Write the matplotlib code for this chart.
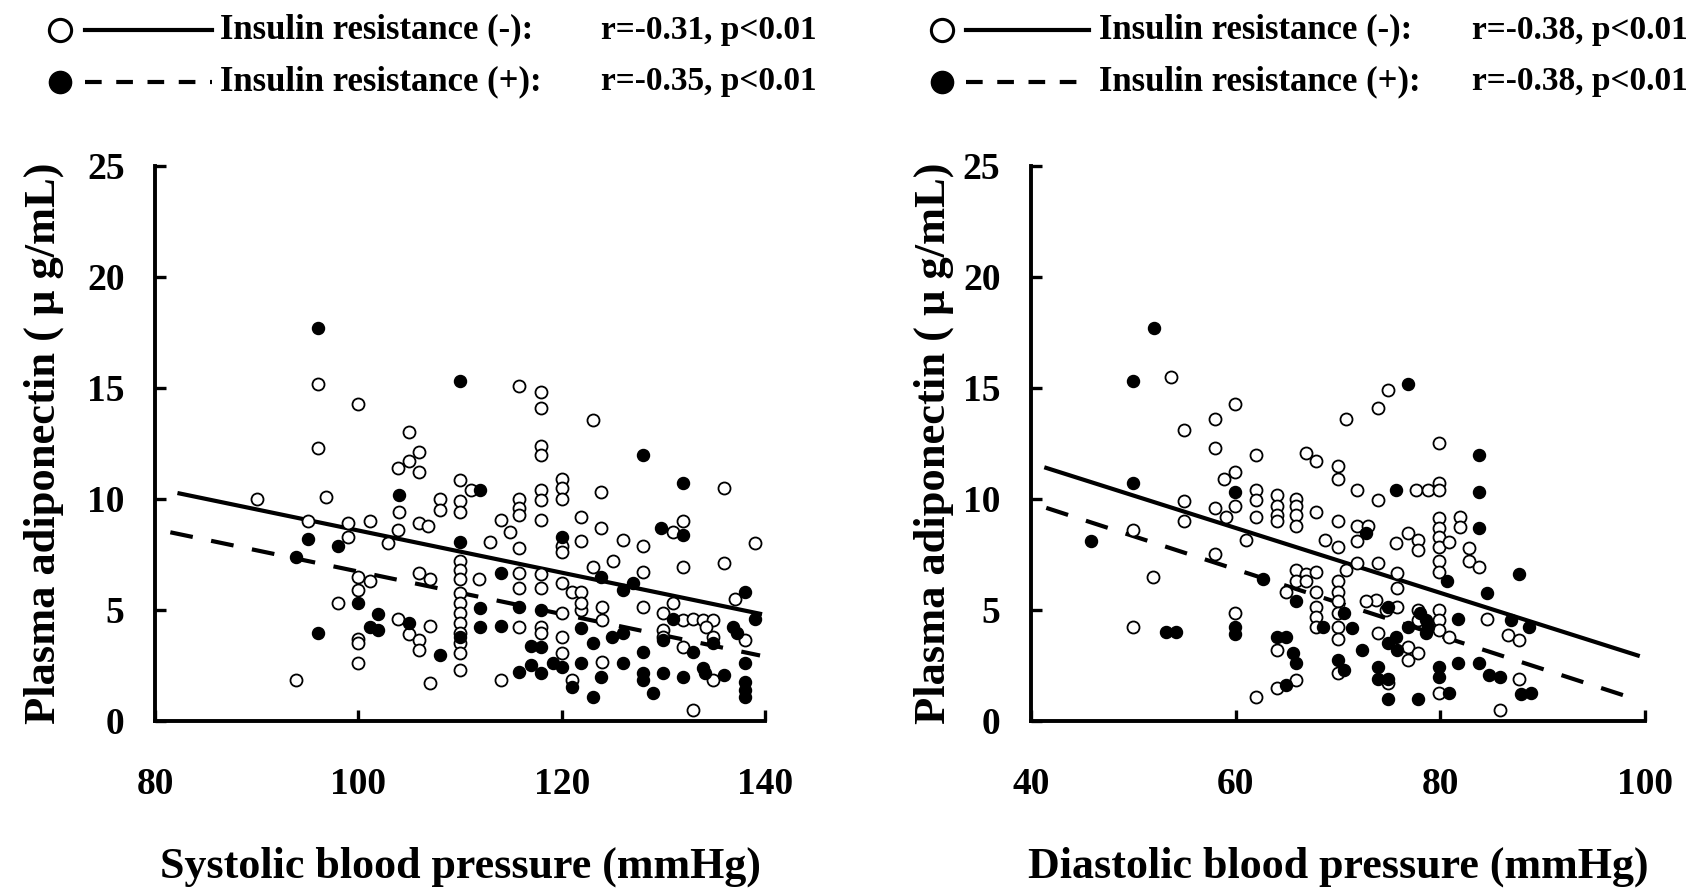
import matplotlib
matplotlib.use("Agg")
import matplotlib.pyplot as plt
from matplotlib.lines import Line2D

plt.rcParams['font.family'] = ['Liberation Serif', 'DejaVu Serif']
plt.rcParams['font.weight'] = 'bold'

# ---- systolic panel: insulin resistance (-) open, (+) filled ----
sys_open_x = [96, 115.8, 118, 118, 100, 105, 96, 118, 118, 106, 105, 103.9, 106, 110, 111.1,
              90, 96.8, 108, 108, 110, 110, 115.8, 115.8, 115.8, 118, 118, 118, 104, 114,
              114.9, 106, 106.8, 103.9, 101.1, 99, 95, 99, 102.9, 112.9, 115.8, 110, 110, 110,
              115.8, 115.8, 118, 118, 111.9, 106, 107, 100, 101.1, 100, 98, 100, 100, 100,
              103.9, 105, 106, 106, 107, 110, 110, 110, 110, 110, 110, 110, 110, 115.8, 118,
              118, 93.9, 107, 114,
              123.1, 120, 120, 120, 123.9, 136, 121.9, 123.9, 131.9, 130.9, 120, 120, 121.9,
              126, 128, 139, 125, 123.1, 131.9, 136, 128, 120, 121, 121.9, 137, 128, 130,
              130.9, 131.9, 132.9, 133.9, 134.9, 130, 130, 134.2, 134.9, 138, 131.9, 121.9,
              121.9, 120, 120, 124, 124, 120, 124, 121, 134.9, 132.9]
sys_open_y = [15.2, 15.1, 14.8, 14.1, 14.3, 13.0, 12.3, 12.4, 12.0, 12.1, 11.7, 11.4, 11.2, 10.86, 10.4,
              10.0, 10.1, 10.0, 9.5, 9.9, 9.4, 10.0, 9.6, 9.3, 10.4, 9.96, 9.05, 9.4, 9.05,
              8.5, 8.9, 8.8, 8.6, 9.0, 8.9, 9.0, 8.3, 8.0, 8.08, 7.8, 7.2, 6.8, 6.4,
              6.65, 6.0, 6.6, 6.0, 6.4, 6.65, 6.4, 6.5, 6.3, 5.9, 5.3, 3.7, 3.5, 2.6,
              4.6, 3.9, 3.65, 3.2, 4.3, 5.75, 5.3, 4.85, 4.4, 3.95, 3.5, 3.05, 2.3, 4.25, 4.25,
              3.95, 1.85, 1.7, 1.85,
              13.56, 10.9, 10.5, 10.0, 10.3, 10.5, 9.2, 8.7, 9.0, 8.5, 7.9, 7.6, 8.1,
              8.15, 7.9, 8.0, 7.2, 6.95, 6.95, 7.1, 6.7, 6.2, 5.8, 5.8, 5.5, 5.15, 4.85,
              5.3, 4.55, 4.6, 4.55, 4.55, 4.1, 3.8, 4.25, 3.8, 3.65, 3.35, 5.0,
              5.3, 4.85, 3.8, 5.15, 4.55, 3.05, 2.67, 1.85, 1.85, 0.5]
sys_fill_x = [96, 110, 112, 104, 95, 98, 110, 93.9, 114, 100, 101.9, 101.1, 101.9, 96, 105, 108,
              110, 112, 112, 114, 115.8, 118, 117, 118, 115.8, 117, 118, 119.1,
              128, 131.9, 129.8, 131.9, 120, 123.9, 126, 127, 138, 139, 130.9, 130, 136.8,
              137.2, 132.9, 134.9, 121.9, 123.1, 124.9, 126, 120, 121.9, 123.9, 123.1, 121,
              126, 128, 128, 128, 129, 130, 131.9, 133.9, 134.1, 136, 138, 138, 138, 138]
sys_fill_y = [17.7, 15.3, 10.4, 10.2, 8.2, 7.9, 8.08, 7.4, 6.65, 5.3, 4.8, 4.25, 4.1, 3.95, 4.4, 2.97,
              3.8, 5.07, 4.25, 4.3, 5.15, 5.0, 3.4, 3.35, 2.2, 2.5, 2.15, 2.6,
              12.0, 10.7, 8.7, 8.4, 8.3, 6.5, 5.9, 6.2, 5.8, 4.6, 4.6, 3.65, 4.25,
              3.95, 3.1, 3.5, 4.17, 3.5, 3.8, 3.95, 2.45, 2.6, 2.0, 1.1, 1.55,
              2.6, 3.1, 2.15, 1.85, 1.25, 2.15, 2.0, 2.4, 2.15, 2.07, 2.6, 1.77, 1.4, 1.1]
sys_fit_x = [82.4, 139.5]
sys_fit_neg = [10.25, 4.83]
sys_fit_x2 = [81.5, 139.5]
sys_fit_pos = [8.5, 2.95]

# ---- diastolic panel ----
dia_open_x = [53.7, 74.9, 73.9, 59.9, 58, 55, 70.8, 58, 62, 66.9, 67.9, 70, 70, 59.9, 58.9, 71.9,
              73.9, 77.6, 78.8, 59.9, 62, 62, 62, 64, 64, 64, 64, 65.9, 65.9, 65.9, 65.9, 67.9,
              70, 71.9, 72.9, 71.9, 68.7, 70, 75.7, 76.8, 77.8, 77.8, 58, 55, 55, 59.1, 61, 50,
              58, 51.9, 71.9, 73.9, 70.8, 75.8, 75.8, 65.9, 66.9, 67.9, 65.9, 66.9, 67.9, 64.9,
              70, 70, 70, 70, 70, 70, 67.9, 67.9, 67.9, 73.7, 72.7, 74.7, 75.8, 77.8, 77.8,
              73.9, 76.8, 76.8, 77.8, 50, 59.9, 64, 65.9, 64, 62, 70, 74.9,
              79.9, 79.9, 79.9, 79.9, 79.9, 79.9, 79.9, 81.9, 81.9, 80.9, 82.8, 82.8, 83.8,
              79.9, 79.9, 84.6, 86.6, 87.7, 79.9, 79.9, 79.9, 80.9, 87.7, 85.8, 79.9]
dia_open_y = [15.5, 14.9, 14.1, 14.3, 13.6, 13.1, 13.6, 12.3, 12.0, 12.06, 11.7, 11.5, 10.9, 11.2, 10.9, 10.4,
              9.95, 10.4, 10.4, 9.7, 10.4, 9.95, 9.2, 10.2, 9.7, 9.3, 9.0, 10.0, 9.7, 9.3, 8.8, 9.4,
              9.0, 8.8, 8.8, 8.1, 8.15, 7.85, 8.0, 8.45, 8.15, 7.7, 9.6, 9.9, 9.0, 9.2, 8.15, 8.6,
              7.5, 6.5, 7.1, 7.1, 6.8, 6.65, 6.0, 6.8, 6.6, 6.7, 6.3, 6.3, 5.8, 5.8,
              6.3, 5.8, 5.4, 4.85, 4.25, 3.7, 5.15, 4.7, 4.25, 5.45, 5.4, 5.0, 5.15, 5.0, 4.55,
              3.95, 3.35, 2.75, 3.05, 4.25, 4.85, 3.2, 1.85, 1.5, 1.1, 2.15, 1.7,
              12.5, 10.7, 10.4, 9.13, 8.68, 8.3, 7.85, 9.2, 8.75, 8.08, 7.78, 7.2, 6.95,
              7.2, 6.7, 4.6, 3.87, 3.65, 5.0, 4.55, 4.1, 3.8, 1.9, 0.5, 1.25]
dia_fill_x = [52, 50, 76.8, 75.7, 50, 59.9, 72.7, 45.9, 62.7, 65.9, 70.6, 71.4, 68.5, 74.9, 76.8,
              78.8, 75.7, 74.9, 75.8, 72.4, 53.2, 54.2, 59.9, 59.9, 64, 64.9, 65.6, 65.9, 64.9,
              70, 70.6, 73.9, 74.9, 73.9, 74.9, 77.8,
              83.8, 83.8, 83.8, 80.7, 87.7, 84.6, 81.7, 86.9, 88.7, 78, 78.6, 78.6, 81.7, 83.8,
              84.8, 85.8, 87.9, 88.9, 80.9, 79.9, 79.9]
dia_fill_y = [17.7, 15.3, 15.2, 10.4, 10.7, 10.3, 8.45, 8.1, 6.4, 5.4, 4.85, 4.2, 4.25, 5.15, 4.25,
              4.25, 3.8, 3.5, 3.2, 3.2, 4.0, 4.0, 4.25, 3.9, 3.8, 3.8, 3.05, 2.6, 1.6,
              2.75, 2.3, 2.45, 1.9, 1.9, 1.0, 1.0,
              12.0, 10.3, 8.68, 6.3, 6.6, 5.75, 4.6, 4.55, 4.25, 4.85, 3.95, 4.55, 2.6, 2.6,
              2.07, 2.0, 1.2, 1.25, 1.25, 2.0, 2.45]
dia_fit_x = [41.5, 99.3]
dia_fit_neg = [11.4, 2.95]
dia_fit_x2 = [41.5, 99.3]
dia_fit_pos = [9.6, 0.95]

y_ticks = [0, 5, 10, 15, 20, 25]
ylabel = 'Plasma adiponectin ( μ g/mL)'
legend_neg = 'Insulin resistance (-):'
legend_pos = 'Insulin resistance (+):'
stats_sys = ['r=-0.31, p<0.01', 'r=-0.35, p<0.01']
stats_dia = ['r=-0.38, p<0.01', 'r=-0.38, p<0.01']

fig = plt.figure(figsize=(17.06, 8.9), dpi=100)
ax1 = fig.add_axes([0.0909, 0.1899, 0.3576, 0.6236])
ax2 = fig.add_axes([0.6043, 0.1899, 0.3599, 0.6236])

DASH = (5.5, 4.5)


def panel(ax, xo, yo, xf, yf, fx, fneg, fx2, fpos, xlim, xticks, xlabel, ylx):
    ax.plot(fx, fneg, '-', color='black', lw=3.0, zorder=2)
    ax.plot(fx2, fpos, '--', color='black', lw=3.0, dashes=DASH, zorder=2)
    ax.scatter(xo, yo, s=75, facecolors='white', edgecolors='black', linewidths=1.3, zorder=3)
    ax.scatter(xf, yf, s=75, c='black', edgecolors='black', linewidths=1.0, zorder=4)
    ax.set_xlim(*xlim)
    ax.set_ylim(0, 25)
    ax.set_xticks(xticks)
    ax.set_yticks(y_ticks)
    for s in ['top', 'right']:
        ax.spines[s].set_visible(False)
    for s in ['left', 'bottom']:
        ax.spines[s].set_linewidth(2.8)
    ax.tick_params(axis='x', direction='in', length=8, width=2.4, pad=33, labelsize=27)
    ax.tick_params(axis='y', direction='in', length=8, width=2.4, pad=22, labelsize=27)
    for lab in ax.get_xticklabels() + ax.get_yticklabels():
        lab.set_fontweight('bold')
    ax.set_xlabel(xlabel, fontsize=31.7, fontweight='bold', va='center')
    ax.xaxis.set_label_coords(0.5, -0.263)
    ax.set_ylabel(ylabel, fontsize=32, fontweight='bold', va='center')
    ax.yaxis.set_label_coords(ylx, 0.5)


panel(ax1, sys_open_x, sys_open_y, sys_fill_x, sys_fill_y, sys_fit_x, sys_fit_neg,
      sys_fit_x2, sys_fit_pos, (80, 140), [80, 100, 120, 140],
      'Systolic blood pressure (mmHg)', -0.182)
panel(ax2, dia_open_x, dia_open_y, dia_fill_x, dia_fill_y, dia_fit_x, dia_fit_neg,
      dia_fit_x2, dia_fit_pos, (40, 100), [40, 60, 80, 100],
      'Diastolic blood pressure (mmHg)', -0.158)


# legends drawn in figure coordinates
def legend(mx, lx0, lx1, tx, rx, stats):
    rows = [0.966, 0.908]
    fig.add_artist(Line2D([mx], [rows[0]], marker='o', ms=16, mfc='white', mec='black',
                          mew=2.2, transform=fig.transFigure))
    fig.add_artist(Line2D([mx], [rows[1]], marker='o', ms=16, mfc='black', mec='black',
                          transform=fig.transFigure))
    fig.add_artist(Line2D([lx0, lx1], [rows[0]] * 2, color='black', lw=3.0,
                          transform=fig.transFigure))
    fig.add_artist(Line2D([lx0, lx1], [rows[1]] * 2, color='black', lw=3.0, ls='--',
                          dashes=(4, 3.5), transform=fig.transFigure))
    for yy, lab, st in zip(rows, [legend_neg, legend_pos], stats):
        fig.text(tx, yy, lab, fontsize=25, fontweight='bold', ha='left', va='center')
        fig.text(rx, yy, st, fontsize=24, fontweight='bold', ha='right', va='center')


legend(0.0352, 0.0498, 0.1243, 0.1290, 0.4789, stats_sys)
legend(0.5522, 0.5662, 0.6383, 0.6442, 0.9894, stats_dia)

fig.savefig('out.png', dpi=100, facecolor='white')
